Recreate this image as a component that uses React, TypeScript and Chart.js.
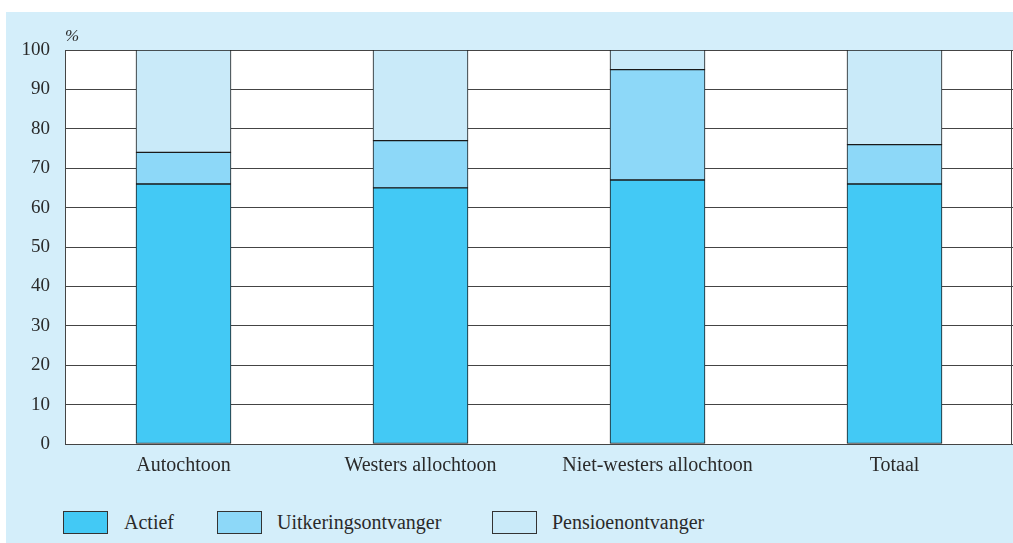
import React, { useEffect, useRef } from "react";
import { Chart, registerables } from "chart.js";

Chart.register(...registerables);

const categories = ["Autochtoon", "Westers allochtoon", "Niet-westers allochtoon", "Totaal"];
const actief = [66, 65, 67, 66];
const uitkering = [8, 12, 28, 10];
const pensioen = [26, 23, 5, 24];
const seriesNames = ["Actief", "Uitkeringsontvanger", "Pensioenontvanger"];
const seriesColors = ["#43c9f5", "#8dd8f8", "#c9eaf9"];
const yTicks = [0, 10, 20, 30, 40, 50, 60, 70, 80, 90, 100];

const FONT = "'Liberation Serif', 'Times New Roman', serif";
const TEXT = "#2a2a2a";
const PANEL = "#d4eefa";

export default function App() {
  const ref = useRef<HTMLCanvasElement>(null);

  useEffect(() => {
    if (!ref.current) return;
    const plotPlugin = {
      id: "plotdeco",
      beforeDraw(chart: any) {
        const { ctx, chartArea: a } = chart;
        ctx.save();
        ctx.fillStyle = "#ffffff";
        ctx.fillRect(a.left, a.top, a.right - a.left, a.bottom - a.top);
        ctx.restore();
      },
      beforeDatasetsDraw(chart: any) {
        const { ctx, chartArea: a } = chart;
        ctx.save();
        ctx.strokeStyle = "#444";
        ctx.lineWidth = 1;
        ctx.strokeRect(Math.round(a.left) + 0.5, Math.round(a.top) + 0.5, Math.round(a.right - a.left) - 2, Math.round(a.bottom - a.top));
        ctx.restore();
      },
      afterDraw(chart: any) {
        const { ctx, chartArea: a } = chart;
        ctx.save();
        ctx.fillStyle = TEXT;
        ctx.font = "italic 17px " + FONT;
        ctx.textAlign = "left";
        ctx.textBaseline = "middle";
        ctx.fillText("%", a.left, a.top - 13);
        ctx.restore();
      },
    };

    const chart = new Chart(ref.current, {
      type: "bar",
      data: {
        labels: categories,
        datasets: [actief, uitkering, pensioen].map((d, i) => ({
          label: seriesNames[i],
          data: d,
          backgroundColor: seriesColors[i],
          borderColor: "#1a1a1a",
          borderWidth: 1,
          borderSkipped: false,
          barThickness: 95,
          categoryPercentage: 1,
        })),
      },
      options: {
        animation: false,
        responsive: false,
        maintainAspectRatio: false,
        layout: { padding: { top: 38, right: 0, left: 0, bottom: 0 } },
        plugins: { legend: { display: false }, tooltip: { enabled: false } },
        scales: {
          x: {
            stacked: true,
            grid: { display: false, drawTicks: false },
            border: { display: false },
            ticks: { color: TEXT, font: { family: FONT, size: 20 }, padding: 10, maxRotation: 0 },
            afterFit: (s: any) => { s.height = 48; },
          },
          y: {
            stacked: true,
            min: 0,
            max: 100,
            afterBuildTicks: (s: any) => { s.ticks = yTicks.map((v) => ({ value: v })); },
            grid: { color: "#444", lineWidth: 1, drawTicks: false },
            border: { display: false },
            ticks: { color: TEXT, font: { family: FONT, size: 19 }, padding: 15 },
            afterFit: (s: any) => { s.width = 59; },
          },
        },
      },
      plugins: [plotPlugin],
    });
    return () => chart.destroy();
  }, []);

  const legendPos = [
    { box: 57, text: 118 },
    { box: 211, text: 271 },
    { box: 486, text: 546 },
  ];

  return (
    <div style={{ position: "absolute", left: 6, top: 12, width: 1007, height: 531, background: PANEL }}>
      <canvas ref={ref} width={1007} height={480} style={{ position: "absolute", left: 0, top: 0, width: 1007, height: 480 }} />
      {seriesNames.map((n, i) => (
        <React.Fragment key={n}>
          <div style={{ position: "absolute", left: legendPos[i].box, top: 499, width: 45, height: 23, boxSizing: "border-box", border: "1px solid #333", background: seriesColors[i] }} />
          <div style={{ position: "absolute", left: legendPos[i].text, top: 498, height: 25, lineHeight: "25px", fontFamily: FONT, fontSize: 20, color: TEXT, whiteSpace: "nowrap" }}>{n}</div>
        </React.Fragment>
      ))}
    </div>
  );
}
